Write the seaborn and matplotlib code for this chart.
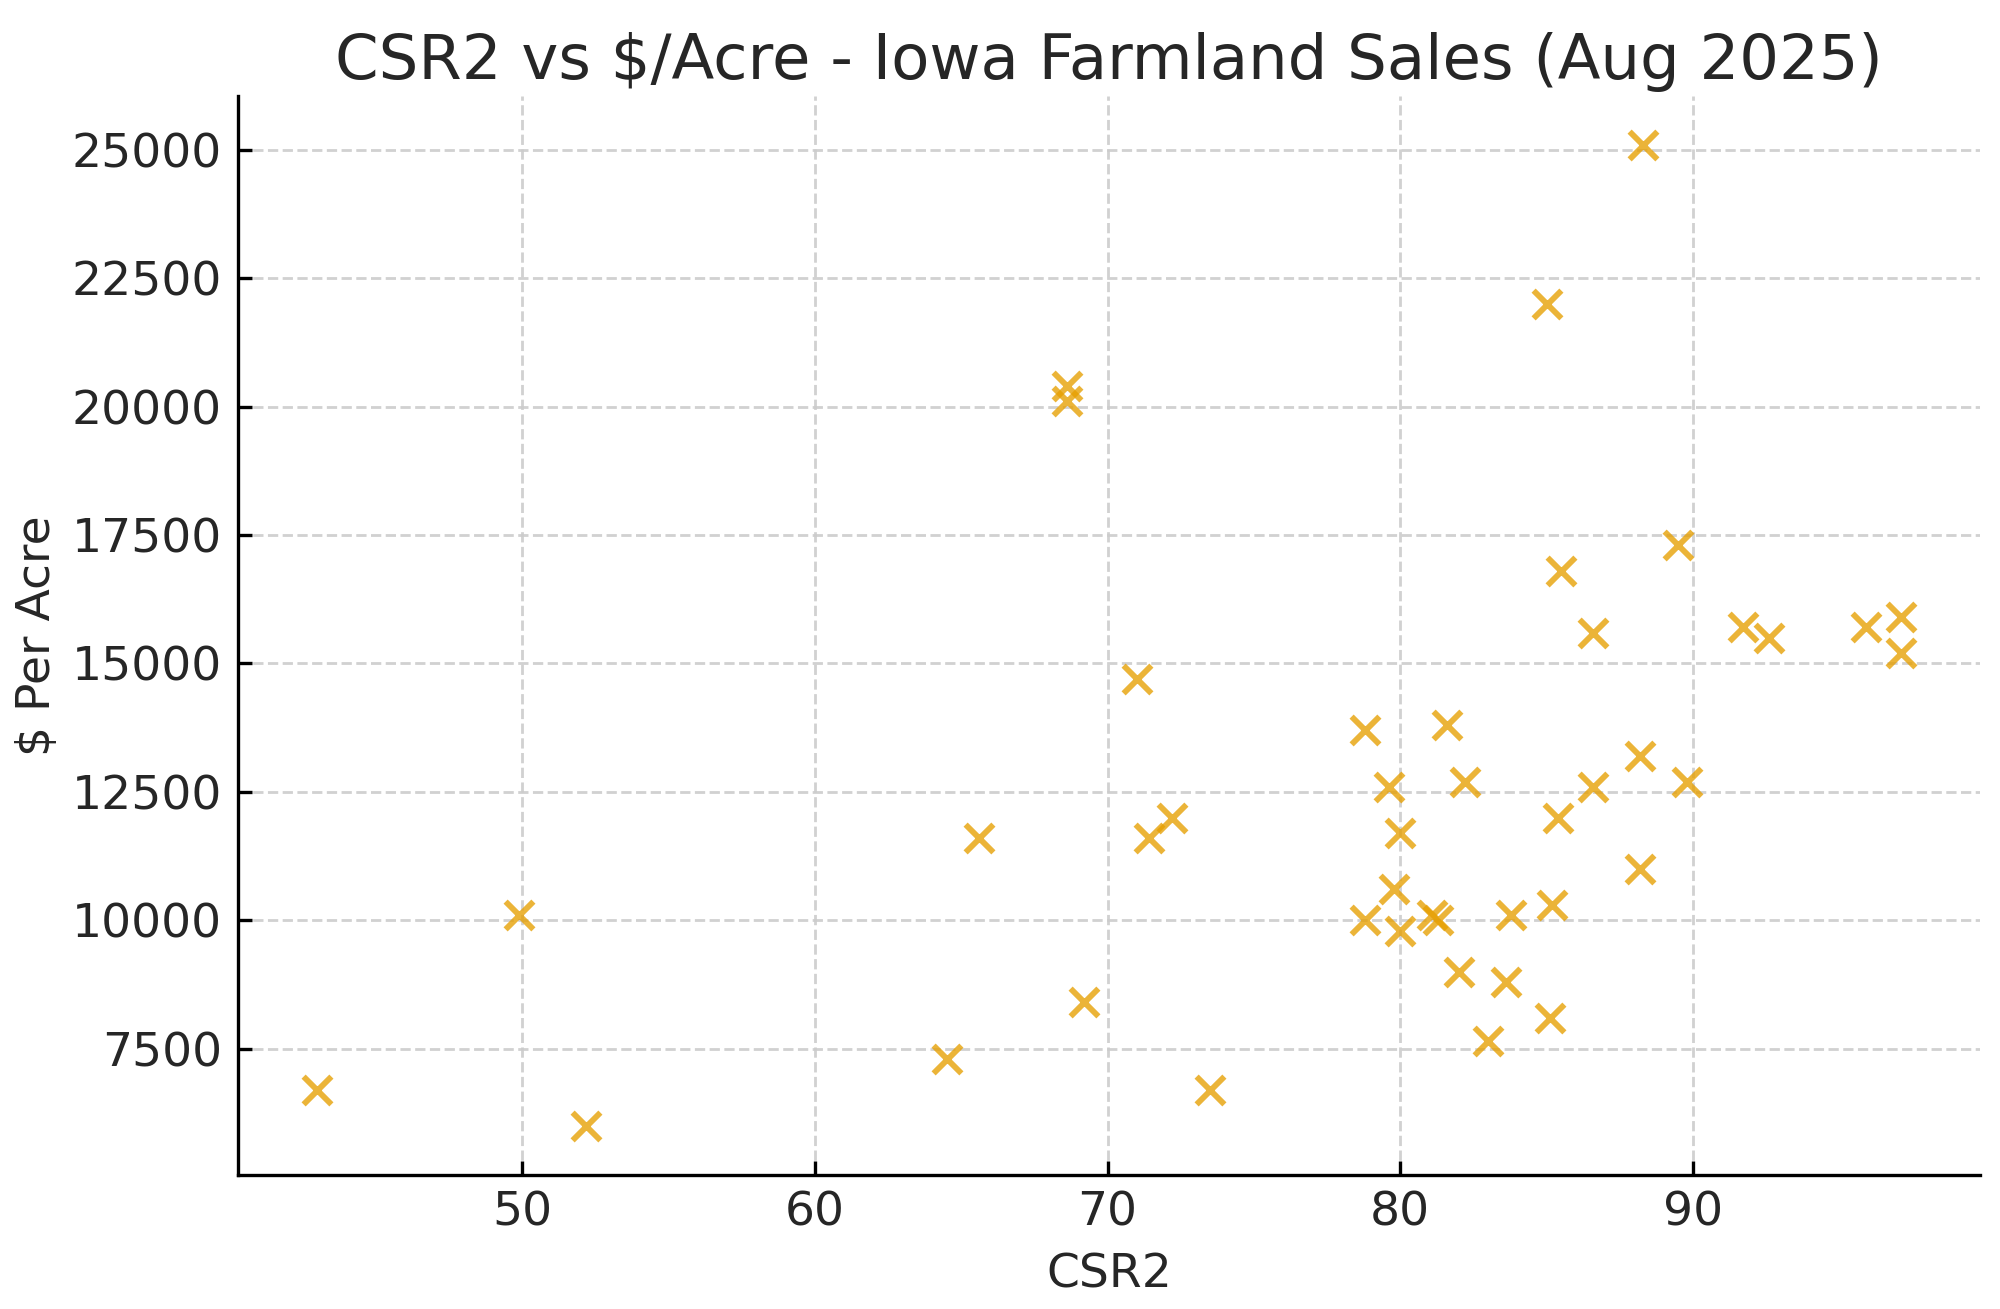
#!/usr/bin/env python
# coding: utf-8

import numpy as np
import pandas as pd
import matplotlib
matplotlib.use('Agg')
import seaborn as sns
import matplotlib.pyplot as plt

# sales
csr2 = [43.0, 49.9, 52.2, 64.5, 65.6, 68.6, 68.6, 69.2, 71.0, 71.4,
        72.2, 73.5, 78.8, 78.8, 79.6, 79.8, 80.0, 80.0, 81.1, 81.3,
        81.6, 82.2, 82.0, 83.0, 83.8, 83.6, 85.0, 85.2, 85.1, 85.4,
        85.5, 86.6, 86.6, 88.2, 88.2, 88.3, 89.5, 89.8, 91.7, 92.6,
        95.9, 97.1, 97.1]
price = [6700, 10100, 6000, 7300, 11600, 20400, 20100, 8400, 14700, 11600,
         12000, 6700, 13700, 10000, 12600, 10600, 11700, 9800, 10100, 10000,
         13800, 12700, 9000, 7650, 10100, 8800, 22000, 10300, 8100, 12000,
         16800, 15600, 12600, 13200, 11000, 25100, 17300, 12700, 15700, 15500,
         15700, 15900, 15200]

def MakePlot(outfile):
    sns.set_theme(style="ticks")
    plt.rcParams['font.family'] = ['DejaVu Sans']
    df = pd.DataFrame({'CSR2': csr2, 'price': price})
    fig, ax = plt.subplots(figsize=(10, 6.545))
    sns.scatterplot(data=df, x='CSR2', y='price', marker='x', color='#E69F00',
                    alpha=0.78, s=100, linewidth=2.1, ax=ax)
    ax.grid(True, linestyle='--', color='#cccccc', linewidth=1.0, alpha=0.9)
    ax.set_axisbelow(True)
    ax.set_title('CSR2 vs $/Acre - Iowa Farmland Sales (Aug 2025)', fontsize=22.5, color='.15')
    ax.set_xlabel('CSR2', fontsize=17, labelpad=6)
    ax.set_ylabel('$ Per Acre', fontsize=17, labelpad=4)
    ax.tick_params(labelsize=17, width=1.2, length=5, direction='in', pad=5.8, color='black')
    for sp in ['left', 'bottom']:
        ax.spines[sp].set_linewidth(1.2)
        ax.spines[sp].set_color('black')
    sns.despine(ax=ax)
    fig.subplots_adjust(left=0.119, right=0.99, bottom=0.1025, top=0.927)
    fig.savefig(outfile, dpi=200)

if __name__ == '__main__':
    MakePlot('out.png')
